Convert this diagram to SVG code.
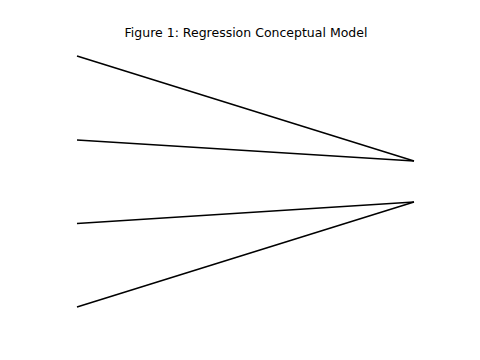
<svg xmlns="http://www.w3.org/2000/svg" width="480" height="360" viewBox="0 0 480 360">
<style>
.t{font-family:"DejaVu Sans",sans-serif;font-size:12.5px;fill:#000}
.c line{stroke:#000;stroke-width:1.5;fill:none}
</style>
<rect width="480" height="360" fill="#fff"/>
<text class="t" x="246" y="37" text-anchor="middle">Figure 1: Regression Conceptual Model</text>
<g id="connectors" class="c">
<line x1="77" y1="56" x2="414" y2="161"/>
<line x1="77" y1="140" x2="414" y2="161"/>
<line x1="77" y1="223.5" x2="414" y2="202"/>
<line x1="77" y1="307" x2="414" y2="202"/>
</g>
</svg>
